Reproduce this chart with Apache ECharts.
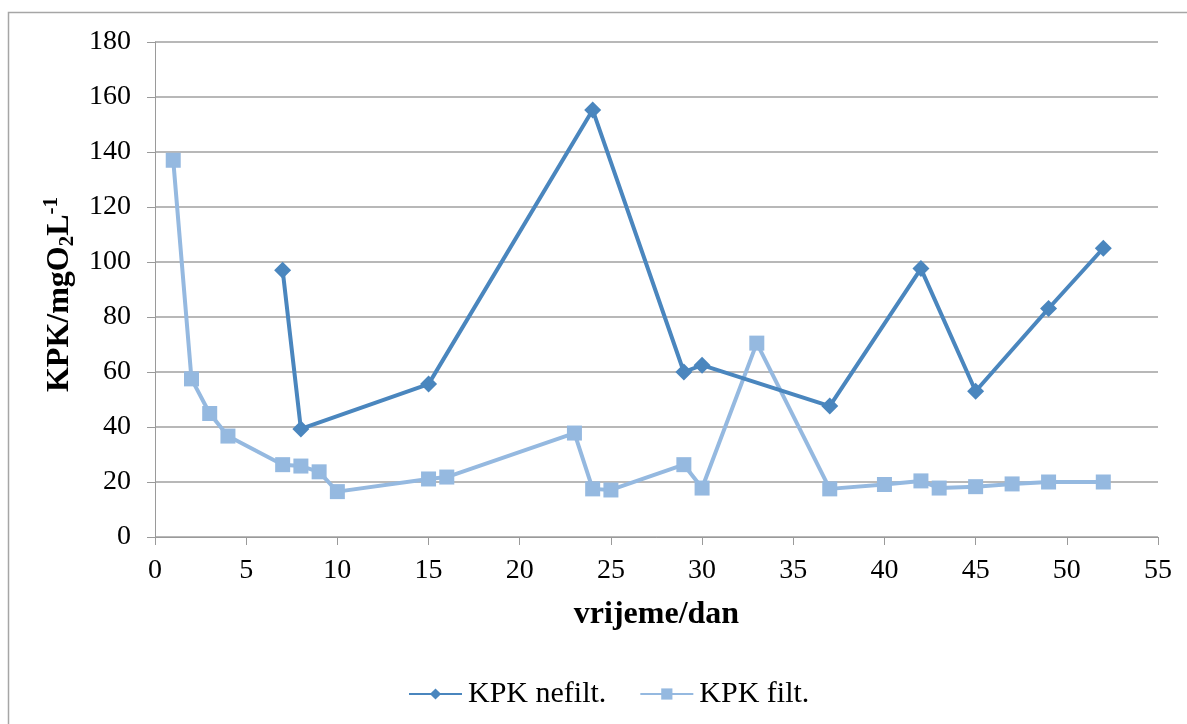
<!DOCTYPE html>
<html>
<head>
<meta charset="utf-8">
<script src="https://cdn.jsdelivr.net/npm/echarts@6/dist/echarts.min.js"></script>
<style>html,body{margin:0;padding:0;background:#fff}#c{width:1187px;height:724px}</style>
</head>
<body>
<div id="c"></div>
<script>
var nefiltDays = [7, 8, 15, 24, 29, 30, 37, 42, 45, 49, 52];
var nefiltVals = [97, 39.3, 55.6, 155.3, 60, 62.5, 47.6, 97.6, 53, 83.1, 105];
var filtDays = [1, 2, 3, 4, 7, 8, 9, 10, 15, 16, 23, 24, 25, 29, 30, 33, 37, 40, 42, 43, 45, 47, 49, 52];
var filtVals = [137, 57.5, 44.9, 36.7, 26.3, 25.8, 23.7, 16.5, 21.1, 21.8, 37.8, 17.5, 17.1, 26.3, 17.8, 70.5, 17.5, 19.1, 20.4, 17.8, 18.3, 19.3, 20, 20];
var seriesNames = ['KPK nefilt.', 'KPK filt.'];

function pairs(xs, ys) { return xs.map(function (x, i) { return [x, ys[i]]; }); }

var font = '"Liberation Serif", "Times New Roman", serif';
var chart = echarts.init(document.getElementById('c'));
chart.setOption({
  animation: false,
  backgroundColor: '#fff',
  textStyle: { fontFamily: font },
  graphic: [{
    type: 'rect', shape: { x: 8.5, y: 12.5, width: 1200, height: 800 },
    style: { fill: 'none', stroke: '#a6a6a6', lineWidth: 1.5 }, silent: true
  }],
  grid: { left: 155, right: 29, top: 42, bottom: 187 },
  legend: {
    top: 674, left: 403, itemWidth: 53, itemHeight: 14, itemGap: 33,
    textStyle: { fontFamily: font, fontSize: 30, color: '#000', padding: [0, 0, 0, 1] },
    data: seriesNames
  },
  xAxis: {
    type: 'value', min: 0, max: 55, interval: 5,
    name: 'vrijeme/dan', nameLocation: 'middle', nameGap: 62,
    nameTextStyle: { fontFamily: font, fontSize: 32, fontWeight: 'bold', color: '#000' },
    axisLine: { lineStyle: { color: '#9a9a9a', width: 1 } },
    axisTick: { show: true, inside: false, length: 8, lineStyle: { color: '#9a9a9a' } },
    axisLabel: { fontFamily: font, fontSize: 28, color: '#000', margin: 20 },
    splitLine: { show: false }
  },
  yAxis: {
    type: 'value', min: 0, max: 180, interval: 20,
    name: '{b|KPK/mgO}{sub|2}{b|L}{sup|-1}', nameLocation: 'middle', nameGap: 77, nameRotate: 90,
    nameTextStyle: {
      fontFamily: font, fontSize: 32, fontWeight: 'bold', color: '#000',
      padding: [0, 10, 0, 0],
      rich: {
        b: { fontFamily: font, fontSize: 32, fontWeight: 'bold', color: '#000' },
        sub: { fontFamily: font, fontSize: 21, fontWeight: 'bold', color: '#000', verticalAlign: 'bottom', padding: [16, 0, 0, 0] },
        sup: { fontFamily: font, fontSize: 21, fontWeight: 'bold', color: '#000', verticalAlign: 'top', padding: [0, 0, 16, 0] }
      }
    },
    axisLine: { show: true, lineStyle: { color: '#9a9a9a', width: 1 } },
    axisTick: { show: true, inside: false, length: 8, lineStyle: { color: '#9a9a9a' } },
    axisLabel: { fontFamily: font, fontSize: 28, color: '#000', margin: 24 },
    splitLine: { show: true, lineStyle: { color: '#a0a0a0', width: 1.5 } }
  },
  series: [{
    name: seriesNames[0], type: 'line', data: pairs(nefiltDays, nefiltVals),
    symbol: 'diamond', symbolSize: 17,
    lineStyle: { color: '#4a86be', width: 4 },
    itemStyle: { color: '#4a86be' }, z: 3
  }, {
    name: seriesNames[1], type: 'line', data: pairs(filtDays, filtVals),
    symbol: 'rect', symbolSize: 15,
    lineStyle: { color: '#95b9e0', width: 4 },
    itemStyle: { color: '#95b9e0' }, z: 2
  }]
});
</script>
</body>
</html>
